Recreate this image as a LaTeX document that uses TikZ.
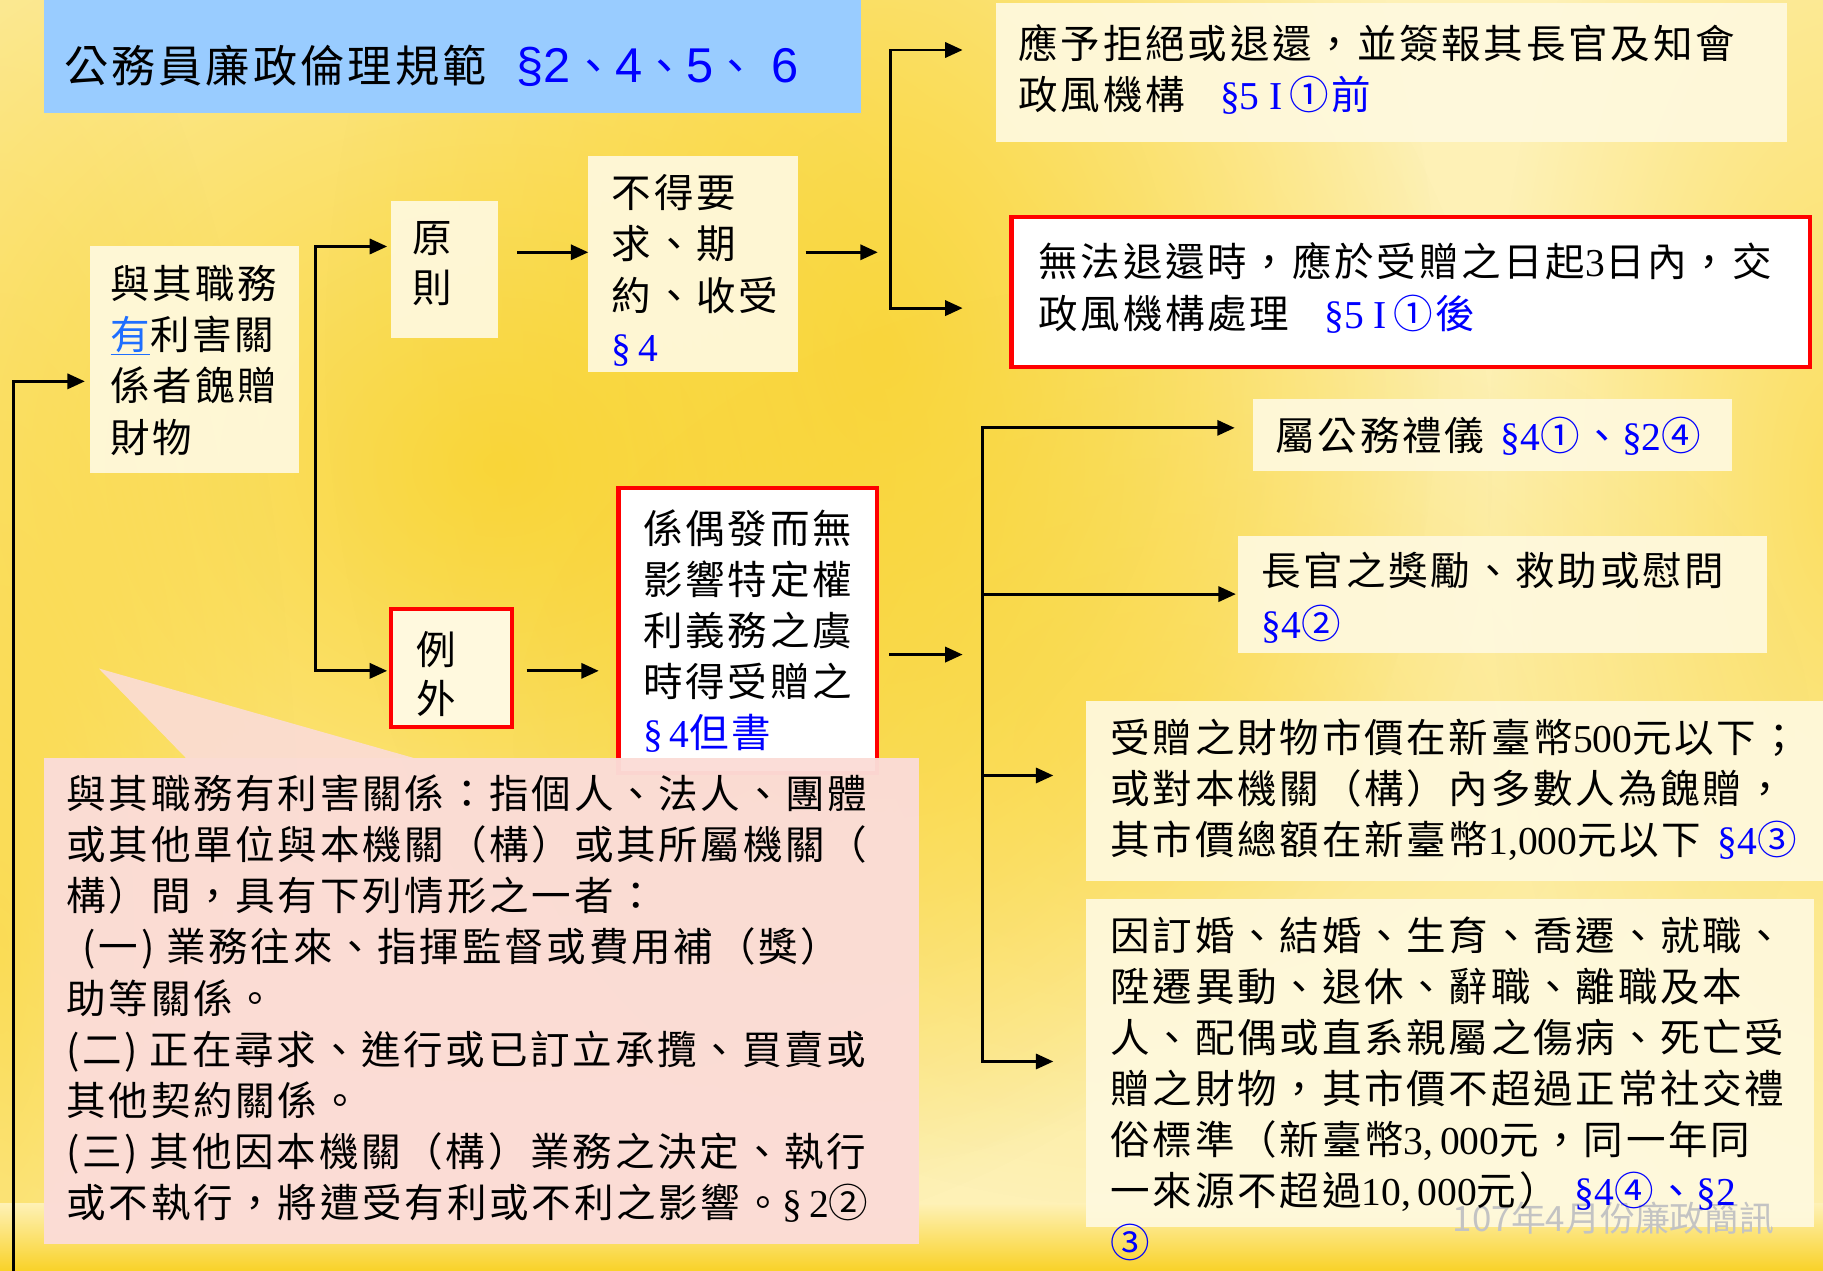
\documentclass[tikz,border=0pt]{standalone}
\usepackage{fontspec}
\setmainfont{Noto Sans CJK TC}[LetterSpace=7]
\newfontfamily\ser{Liberation Serif}
\newfontfamily\sansl{Liberation Sans}
\newfontfamily\cjkplain{Noto Sans CJK TC}
\usetikzlibrary{arrows.meta,fadings}
\definecolor{refblue}{RGB}{0,0,255}
\definecolor{linkblue}{RGB}{30,110,255}
\definecolor{titleblue}{RGB}{153,204,255}
\definecolor{cream}{RGB}{255,249,222}
\definecolor{pinkc}{RGB}{251,220,215}
\definecolor{bgbase}{RGB}{254,241,182}
\definecolor{gold}{RGB}{249,210,40}
\definecolor{wmgray}{RGB}{195,195,195}
\definecolor{redb}{RGB}{255,0,0}
\newcommand\bref[1]{{\color{refblue}#1}}
\newcommand\tsans[1]{{\sansl\fontsize{42}{46}\selectfont #1}}
\tikzfading[name=softblob, inner color=transparent!0, outer color=transparent!100]
\begin{document}
\begin{tikzpicture}[x=1pt,y=-1pt,
  cbox/.style={fill=cream, fill opacity=0.93, draw=none, inner sep=0pt, outer sep=0pt, anchor=north west},
  rbox/.style={fill=white, draw=redb, line width=3.5pt, inner sep=0pt, outer sep=0pt, anchor=north west},
  crbox/.style={fill=cream, draw=redb, line width=3.5pt, inner sep=0pt, outer sep=0pt, anchor=north west},
  txt/.style={inner sep=0pt, anchor=north west, align=left, font=\fontsize{34}{44}\selectfont},
  ltxt/.style={inner sep=0pt, anchor=west, font=\fontsize{34}{44}\selectfont},
  arr/.style={line width=2.5pt, -{Triangle[length=15pt,width=13pt]}},
  bline/.style={line width=2.5pt, line cap=rect},
  blob/.style={fill=gold, path fading=softblob}]
\useasboundingbox (0,0) rectangle (1568,1093);
% background
\fill[bgbase] (0,0) rectangle (1568,1093);
\fill[blob, fill opacity=0.85] (430,400) ellipse (860pt and 700pt);
\fill[blob, fill opacity=0.7] (760,300) ellipse (480pt and 700pt);
\fill[blob, fill opacity=0.6] (1580,420) ellipse (300pt and 700pt);
\fill[blob, fill opacity=0.6] (0,820) ellipse (260pt and 900pt);
\fill[blob, fill opacity=0.4] (1000,640) ellipse (560pt and 400pt);
\shade[top color=bgbase, bottom color=gold] (0,1035) rectangle (1568,1093);
% title
\node[fill=titleblue, inner sep=0pt, anchor=north west, minimum width=702pt, minimum height=107pt] (title) at (38,-10) {};
\node[inner sep=0pt, anchor=west, font=\fontsize{38}{46}\selectfont] (titletxt) at (55,57)
  {公務員廉政倫理規範\hspace{26pt}\bref{\tsans{§2}、\tsans{4}、\tsans{5}、\hspace{12pt}\tsans{6}}};
% boxes
\node[cbox, minimum width=180pt, minimum height=195pt] (yuqi) at (77,212) {};
\node[cbox, minimum width=92pt, minimum height=118pt] (yuanze) at (336,173) {};
\node[cbox, minimum width=180pt, minimum height=186pt] (budeyao) at (506,134) {};
\node[crbox, minimum width=104pt, minimum height=101pt] (liwai) at (336,524) {};
\node[rbox, minimum width=222pt, minimum height=245pt] (xiou) at (532,420) {};
\node[cbox, minimum width=680pt, minimum height=119pt] (tr1) at (857,3) {};
\node[rbox, minimum width=687pt, minimum height=129pt] (red2) at (870,187) {};
\node[cbox, minimum width=412pt, minimum height=62pt] (shugong) at (1078,343) {};
\node[cbox, minimum width=455pt, minimum height=101pt] (zhang) at (1065,461) {};
\node[cbox, minimum width=634pt, minimum height=155pt] (shou) at (934,603) {};
\node[cbox, minimum width=626pt, minimum height=282pt] (yin) at (934,773) {};
% watermark
\node[inner sep=0pt, text=wmgray, font=\cjkplain\fontsize{30}{36}\selectfont] (wm) at (1388,1048) {107年4月份廉政簡訊};
% texts
\node[txt] (yuqitxt) at (95,228) {與其職務\\{\color{linkblue}\underline{有}}利害關\\係者餽贈\\財物};
\node[txt, font=\fontsize{34}{43}\selectfont] (yuanzetxt) at (355,190) {原\\則};
\node[txt] (budeyaotxt) at (526,150) {不得要\\求、期\\約、收受\\\bref{{\ser §\,4}}};
\node[txt, font=\fontsize{34}{42}\selectfont] (liwaitxt) at (358,543) {例\\外};
\node[txt] (xioutxt) at (553,438) {係偶發而無\\影響特定權\\利義務之虞\\時得受贈之\\\bref{{\ser §\,4}但書}};
\node[txt] (tr1txt) at (876,21) {應予拒絕或退還，並簽報其長官及知會\\政風機構\hspace{30pt}\bref{{\ser §5 I\,}①前}};
\node[txt, font=\fontsize{34}{45}\selectfont] (red2txt) at (893,208) {無法退還時，應於受贈之日起{\ser 3}日內，交\\政風機構處理\hspace{30pt}\bref{{\ser §5 I\,}①後}};
\node[ltxt] (shugongtxt) at (1097,375) {屬公務禮儀\hspace{14pt}\bref{{\ser §4}①、{\ser §2}④}};
\node[txt, font=\fontsize{34}{45}\selectfont] (zhangtxt) at (1085,475) {長官之獎勵、救助或慰問\\\bref{{\ser §4}②}};
\node[txt] (shoutxt) at (955,618) {受贈之財物市價在新臺幣{\ser 500}元以下；\\或對本機關（構）內多數人為餽贈，\\其市價總額在新臺幣{\ser 1,000}元以下\hspace{14pt}\bref{{\ser §4}③}};
\node[txt] (yintxt) at (955,788) {因訂婚、結婚、生育、喬遷、就職、\\陞遷異動、退休、辭職、離職及本\\人、配偶或直系親屬之傷病、死亡受\\贈之財物，其市價不超過正常社交禮\\俗標準（新臺幣{\ser 3,\,000}元，同一年同\\一來源不超過{\ser 10,\,000}元）\hspace{14pt}\bref{{\ser §4}④、{\ser §2}}\\\bref{③}};
% connectors
\coordinate (lb) at (12,1093);
\coordinate (y328) at (0,328);
\draw[line width=2.5pt, -{Triangle[length=15pt,width=13pt]}, shorten >=4pt] (lb) |- (yuqi.west |- y328);
\coordinate (bA) at (271,212);
\coordinate (bB) at (271,577);
\draw[bline] (bA) -- (bB);
\draw[arr, shorten >=3pt] (bA) -- (yuanze.west |- bA);
\draw[arr, shorten >=3pt] (bB) -- (liwai.west |- bB);
\coordinate (y217) at (0,217);
\draw[arr, shorten <=17pt, shorten >=0pt] (yuanze.east |- y217) -- (budeyao.west |- y217);
\coordinate (v1t) at (766,43);
\coordinate (v1b) at (766,265);
\draw[bline] (v1t) -- (v1b);
\draw[arr, shorten <=7pt, shorten >=11pt] (budeyao.east |- y217) -- (v1t |- y217);
\draw[arr, shorten >=29pt] (v1t) -- (tr1.west |- v1t);
\draw[arr, shorten >=42pt] (v1b) -- (red2.west |- v1b);
\draw[arr, shorten <=13pt, shorten >=17pt] (liwai.east |- bB) -- (xiou.west |- bB);
\coordinate (v2t) at (845,368);
\coordinate (v2b) at (845,913);
\draw[bline] (v2t) -- (v2b);
\coordinate (y563) at (0,563);
\draw[arr, shorten <=11pt, shorten >=17pt] (xiou.east |- y563) -- (v2t |- y563);
\draw[arr, shorten >=16pt] (v2t) -- (shugong.west |- v2t);
\coordinate (y511) at (0,511);
\draw[arr, shorten >=2pt] (v2t |- y511) -- (zhang.west |- y511);
\coordinate (y667) at (0,667);
\draw[arr, shorten >=28pt] (v2t |- y667) -- (shou.west |- y667);
\draw[arr, shorten >=28pt] (v2b) -- (yin.west |- v2b);
% callout
\node[fill=pinkc, fill opacity=0.97, inner sep=0pt, anchor=north west, minimum width=752pt, minimum height=418pt] (callout) at (38,652) {};
\coordinate (tip) at (85,575);
\fill[pinkc, fill opacity=0.9] (tip) -- ([xshift=318pt]callout.north west) -- ([xshift=122pt]callout.north west) -- cycle;
\node[txt] (callouttxt) at (57,666) {與其職務有利害關係：指個人、法人、團體\\或其他單位與本機關（構）或其所屬機關（\\構）間，具有下列情形之一者：\\\hspace{14pt}(一) 業務往來、指揮監督或費用補（獎）\\助等關係。\\(二) 正在尋求、進行或已訂立承攬、買賣或\\其他契約關係。\\(三) 其他因本機關（構）業務之決定、執行\\或不執行，將遭受有利或不利之影響。{\ser §\,2}②};
\end{tikzpicture}
\end{document}
